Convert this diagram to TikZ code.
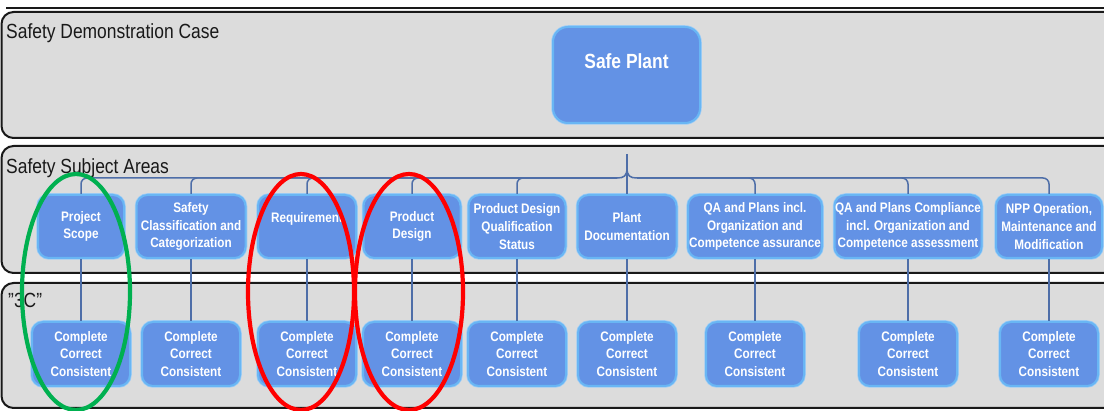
\documentclass[tikz,border=0pt]{standalone}
\usepackage{fontspec}
\setmainfont{Liberation Sans}
\newfontfamily\nfont[FakeStretch=0.85]{Liberation Sans}
\usetikzlibrary{shapes.geometric}
\definecolor{lanefill}{RGB}{220,220,220}
\definecolor{boxfill}{RGB}{99,146,229}
\definecolor{boxedge}{RGB}{105,182,244}
\definecolor{boxglow}{RGB}{160,205,245}
\definecolor{conncol}{RGB}{78,110,168}
\definecolor{mkgreen}{RGB}{0,176,80}
\definecolor{mkred}{RGB}{255,0,0}
\begin{document}
\begin{tikzpicture}[x=1pt,y=-1pt,
  lane/.style={draw=black!90, line width=2pt, fill=lanefill, rounded corners=12pt},
  lanelabel/.style={anchor=base west, inner sep=0pt, font=\nfont\fontsize{20.5}{24}\selectfont, text=black!90},
  box/.style={draw=boxedge, line width=2pt, fill=boxfill, rounded corners=11pt, inner sep=0pt, align=center, text=white,
    preaction={draw=boxglow, line width=3.5pt},
    font=\nfont\bfseries\fontsize{13.8}{17.7}\selectfont},
  topbox/.style={box, minimum height=63pt},
  botbox/.style={box, minimum height=64pt, minimum width=98pt},
  conn/.style={draw=conncol, line width=1.5pt},
  hilite/.style={ellipse, draw, line width=4.2pt, inner sep=0pt}
]
\useasboundingbox (0,0) rectangle (1104,411);
\clip (0,0) rectangle (1104,411);
\fill[white] (0,0) rectangle (1104,411);
% lanes
\draw[line width=2pt, black!90] (6,8) -- (1110,8);
\draw[lane] (1.5,12) rectangle (1160,138);
\draw[lane] (1.5,146) rectangle (1160,273);
\draw[lane] (1.5,283) rectangle (1160,408);
\node[lanelabel] (l1) at (6,39) {Safety Demonstration Case};
\node[lanelabel] (l2) at (6,174) {Safety Subject Areas};
\node[lanelabel] (l3) at (8,308) {\textquotedblright3C\textquotedblright};
% safe plant
\node[box, rounded corners=15pt, minimum width=147pt, minimum height=96pt] (sp) at (626.5,75) {};
\node[inner sep=0pt, text=white, font=\nfont\bfseries\fontsize{20.5}{24}\selectfont] (sptext) at (626.5,61) {Safe Plant};
% top boxes
\node[topbox, minimum width=86pt]  (t1) at (81,226.5)   {Project\\Scope};
\node[topbox, minimum width=109pt] (t2) at (191,226.5)  {Safety\\Classification and\\Categorization};
\node[topbox, minimum width=98pt]  (t3) at (307,226.5)  {Requirement\\\phantom{X}};
\node[topbox, minimum width=97pt]  (t4) at (412,226.5)  {Product\\Design};
\node[topbox, minimum width=97pt]  (t5) at (517,226.5)  {Product Design\\Qualification\\Status};
\node[topbox, minimum width=99pt]  (t6) at (627,226.5)  {Plant\\Documentation};
\node[topbox, minimum width=134pt] (t7) at (755,226.5)  {QA and Plans incl.\\Organization and\\Competence assurance};
\node[topbox, minimum width=147pt] (t8) at (908,226.5)  {QA and Plans Compliance\\incl. Organization and\\Competence assessment};
\node[topbox, minimum width=106pt] (t9) at (1049,226.5) {NPP Operation,\\Maintenance and\\Modification};
% bottom boxes
\foreach \i/\x in {1/81,2/191,3/307,4/412,5/517,6/627,7/755,8/908,9/1049}{
  \node[botbox] (b\i) at (\x,354) {Complete\\Correct\\Consistent};
}
% connectors
\coordinate (stub) at (627,154);
\coordinate (tip) at (627,168);
\coordinate (busL) at (617,178);
\coordinate (busR) at (637,178);
\foreach \i in {1,...,5}{ \draw[conn, rounded corners=6pt] (t\i.north) |- (busL); }
\foreach \i in {7,8,9}{ \draw[conn, rounded corners=6pt] (t\i.north) |- (busR); }
\draw[conn] (busL) .. controls (624,178) and (627,176) .. (tip);
\draw[conn] (busR) .. controls (630,178) and (627,176) .. (tip);
\draw[conn] (stub) -- (t6.north);
\foreach \i in {1,...,9}{ \draw[conn] (t\i.south) -- (b\i.north); }
% highlight ellipses
\node[hilite, draw=mkgreen, minimum width=108pt, minimum height=236pt] (eg) at (76,292) {};
\node[hilite, draw=mkred, minimum width=106pt, minimum height=236pt] (er1) at (301,292) {};
\node[hilite, draw=mkred, minimum width=108pt, minimum height=236pt] (er2) at (409,292) {};
\end{tikzpicture}
\end{document}
